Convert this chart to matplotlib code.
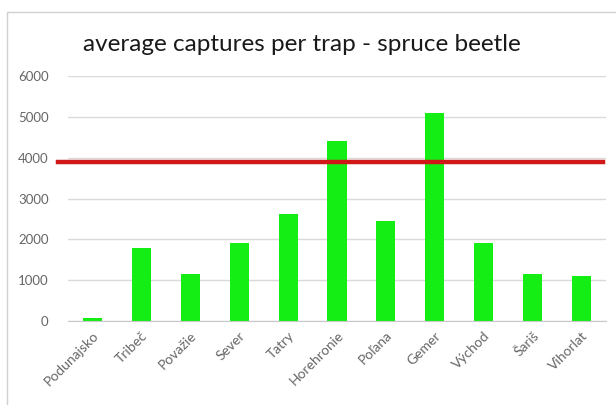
import matplotlib
matplotlib.use("Agg")
import matplotlib.pyplot as plt
from matplotlib.patches import Rectangle

# data
regions = ["Podunajsko", "Tribeč", "Považie", "Sever", "Tatry", "Horehronie",
           "Poľana", "Gemer", "Východ", "Šariš", "Vihorlat"]
captures = [70, 1780, 1160, 1910, 2620, 4410, 2450, 5100, 1920, 1140, 1090]
threshold = 3900
yticks = [0, 1000, 2000, 3000, 4000, 5000, 6000]

plt.rcParams["font.family"] = ["Lato", "DejaVu Sans"]

fig = plt.figure(figsize=(6.16, 4.05), dpi=100)
fig.patch.set_facecolor("white")

# light frame round the chart
fig.patches.append(Rectangle((7 / 616, -0.1), 1.2, 1 - 12 / 405 + 0.1,
                             transform=fig.transFigure, fill=False,
                             edgecolor="#d0d0d0", linewidth=1.0))

ax = fig.add_axes([68 / 616, 1 - 321 / 405, (606 - 68) / 616, (321 - 76) / 405])
x = range(len(regions))
ax.bar(x, captures, width=0.39, color="#14ee14", zorder=2)
ax.axhline(threshold, xmin=-0.018, xmax=0.995, color="#d01818",
           linewidth=3.2, clip_on=False, zorder=3)

ax.set_xlim(-0.5, len(regions) - 0.5)
ax.set_ylim(0, 6000)
ax.set_yticks(yticks)
ax.set_yticklabels([str(v) for v in yticks])
ax.grid(axis="y", color="#dadada", linewidth=1.0, zorder=0)
ax.set_axisbelow(True)

for s in ["top", "right", "left"]:
    ax.spines[s].set_visible(False)
ax.spines["bottom"].set_color("#c8c8c8")

ax.tick_params(axis="both", length=0, colors="#666666", labelsize=9.5)
ax.tick_params(axis="y", pad=14)
ax.set_xticks(list(x))
ax.set_xticklabels(regions, rotation=45, ha="right", rotation_mode="anchor",
                   fontsize=10)
ax.tick_params(axis="x", pad=6)

fig.text(302 / 616, 0.889, "average captures per trap - spruce beetle",
         ha="center", va="center", fontsize=17.5, color="#1a1a1a")

fig.savefig("out.png", dpi=100, facecolor="white")
